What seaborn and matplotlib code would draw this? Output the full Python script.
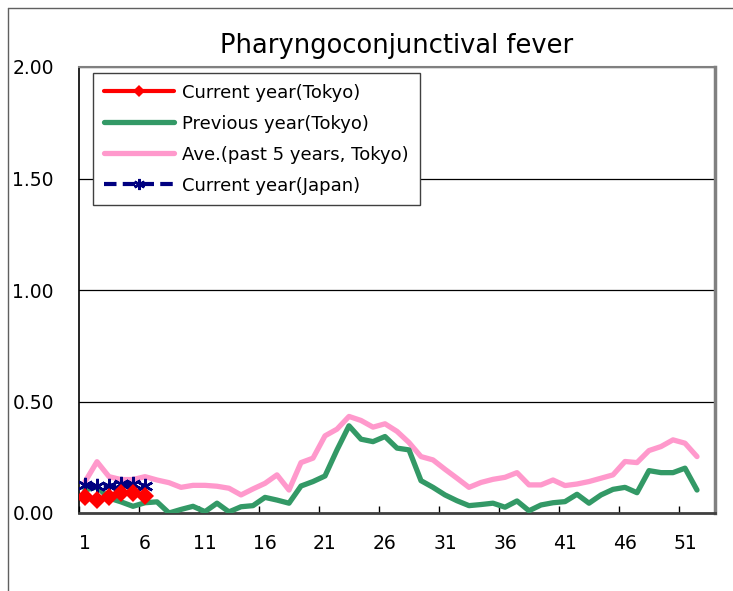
import numpy as np
import pandas as pd
import matplotlib
matplotlib.use("Agg")
import matplotlib.pyplot as plt
from matplotlib.lines import Line2D
import seaborn as sns

title = "Pharyngoconjunctival fever"
weeks = list(range(1, 53))
cur_tokyo = [0.07, 0.058, 0.07, 0.091, 0.091, 0.076]
prev_tokyo = [0.103, 0.117, 0.067, 0.05, 0.03, 0.046, 0.05, 0.0, 0.016, 0.03,
              0.006, 0.044, 0.005, 0.028, 0.033, 0.07, 0.058, 0.044, 0.121, 0.141,
              0.166, 0.283, 0.391, 0.331, 0.32, 0.343, 0.291, 0.283, 0.145, 0.115,
              0.081, 0.055, 0.033, 0.038, 0.044, 0.026, 0.054, 0.01, 0.036, 0.046,
              0.051, 0.084, 0.044, 0.081, 0.106, 0.115, 0.091, 0.19, 0.181, 0.181,
              0.201, 0.103]
ave5 = [0.14, 0.23, 0.163, 0.15, 0.15, 0.163, 0.148, 0.136, 0.115, 0.124,
        0.124, 0.12, 0.111, 0.081, 0.108, 0.133, 0.171, 0.103, 0.226, 0.246,
        0.346, 0.376, 0.433, 0.415, 0.385, 0.4, 0.366, 0.316, 0.253, 0.238,
        0.196, 0.156, 0.115, 0.137, 0.151, 0.16, 0.181, 0.126, 0.126, 0.148,
        0.123, 0.13, 0.141, 0.156, 0.171, 0.231, 0.226, 0.28, 0.298, 0.328,
        0.313, 0.253]
cur_japan = [0.125, 0.12, 0.122, 0.13, 0.13, 0.123]
labels = ["Current year(Tokyo)", "Previous year(Tokyo)",
          "Ave.(past 5 years, Tokyo)", "Current year(Japan)"]
xtick_labels = [1, 6, 11, 16, 21, 26, 31, 36, 41, 46, 51]
yticks = [0.0, 0.5, 1.0, 1.5, 2.0]

sns.set_theme(style="white")
plt.rcParams['font.family'] = ['DejaVu Sans']
plt.rcParams['text.color'] = 'black'
plt.rcParams['xtick.color'] = 'black'
plt.rcParams['ytick.color'] = 'black'
plt.rcParams['axes.labelcolor'] = 'black'

fig = plt.figure(figsize=(7.33, 5.91), dpi=100)
ax = fig.add_axes([79/733, 1-513/591, 636/733, 446/591])

RED = "#FF0000"; GREEN = "#339966"; PINK = "#FF99CC"; NAVY = "#000080"
STAR = (6, 2, 0)

sns.lineplot(x=weeks, y=ave5, ax=ax, color=PINK, lw=3.8, zorder=2)
sns.lineplot(x=weeks, y=prev_tokyo, ax=ax, color=GREEN, lw=3.8, zorder=3)
sns.lineplot(x=weeks[:len(cur_japan)], y=cur_japan, ax=ax, color=NAVY, lw=3,
             linestyle=(0, (3, 1.5)), marker=STAR, markersize=11,
             markeredgewidth=1.8, markeredgecolor=NAVY, zorder=4)
sns.lineplot(x=weeks[:len(cur_tokyo)], y=cur_tokyo, ax=ax, color=RED, lw=3,
             marker="D", markersize=9, markeredgewidth=0, zorder=5)

ax.set_xlim(0.5, 53.5)
ax.set_ylim(0, 2.0)
ax.set_yticks(yticks)
ax.set_yticklabels([f"{v:.2f}" for v in yticks], fontsize=13.5)
ax.set_xticks(xtick_labels)
ax.set_xticklabels([str(v) for v in xtick_labels], fontsize=13.5)
ax.set_xticks(np.arange(0.5, 54, 5), minor=True)
ax.tick_params(axis="x", which="major", length=0, pad=15, labelcolor="black")
ax.tick_params(axis="x", which="minor", length=5, width=1, color="black",
               direction="in", bottom=True)
ax.tick_params(axis="y", which="major", length=0, pad=18, labelcolor="black")
ax.yaxis.grid(True, color="black", lw=0.9)
ax.xaxis.grid(False)
ax.set_axisbelow(True)
for s in ["top", "right"]:
    ax.spines[s].set_color("#808080"); ax.spines[s].set_linewidth(1.5)
ax.spines["right"].set_linewidth(2.5)
ax.spines["left"].set_color("black"); ax.spines["left"].set_linewidth(1.2)
ax.spines["bottom"].set_color("#404040"); ax.spines["bottom"].set_linewidth(2)
ax.set_xlabel(""); ax.set_ylabel("")

ax.set_title(title, fontsize=18.5, pad=10, color="black")

handles = [
    Line2D([], [], color=RED, lw=3, marker="D", markersize=6, markeredgewidth=0),
    Line2D([], [], color=GREEN, lw=3.8),
    Line2D([], [], color=PINK, lw=3.8),
    Line2D([], [], color=NAVY, lw=3, linestyle=(0, (3, 1.5)), marker=STAR,
           markersize=8, markeredgewidth=1.8, markeredgecolor=NAVY),
]
leg = ax.legend(handles, labels, loc="upper left", bbox_to_anchor=(0.022, 0.987),
                fontsize=13, frameon=True, fancybox=False, framealpha=1,
                edgecolor="#404040", handlelength=3.9, borderpad=0.6,
                labelspacing=0.72, handletextpad=0.45, borderaxespad=0,
                labelcolor="black")
leg.get_frame().set_linewidth(1)

# outer frame lines
fig.add_artist(Line2D([8/733, 8/733], [0, 1-8/591], color="#606060", lw=1,
                      transform=fig.transFigure))
fig.add_artist(Line2D([8/733, 1], [1-8/591, 1-8/591], color="#606060", lw=1,
                      transform=fig.transFigure))

fig.savefig("out.png", dpi=100, facecolor="white")
